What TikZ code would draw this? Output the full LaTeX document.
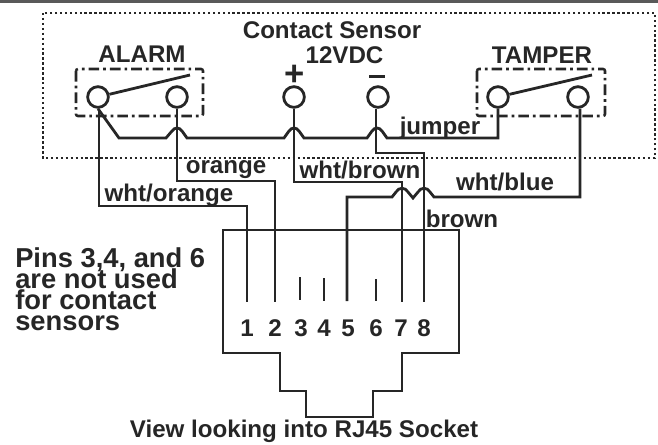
\documentclass[tikz,border=0pt]{standalone}
\usepackage{fontspec}
\setmainfont{Liberation Sans}
\begin{document}
\begin{tikzpicture}[x=0.75pt,y=-0.75pt,
  wire/.style={line width=2.1pt,black!85,line join=miter},
  txt/.style={font=\fontsize{18.1pt}{20pt}\selectfont\bfseries,inner sep=0pt,text=black!85},
  term/.style={circle,draw=black!85,line width=2.1pt,minimum size=15.5pt,inner sep=0pt},
  outerbox/.style={draw=black!85,line width=2.2pt,dash pattern=on 1.8pt off 1.9pt},
  swbox/.style={draw=black!85,line width=1.9pt,dash pattern=on 8pt off 3pt on 2pt off 3pt,rounded corners=1.5pt}]
\useasboundingbox (0,0) rectangle (658,444);
\fill[black!65] (0,0) rectangle (658,2.5);
\coordinate (bx1) at (43,13);\coordinate (bx2) at (655,158);
\draw[outerbox] (bx1) rectangle (bx2);
\draw[swbox] (76,69) rectangle (203,116);
\draw[swbox] (477,69) rectangle (605,116);
\node[term] (a1) at (98,97) {};
\node[term] (a2) at (177,97) {};
\node[term] (vp) at (294,97) {};
\node[term] (vm) at (378,97) {};
\node[term] (t1) at (498,97) {};
\node[term] (t2) at (578,97) {};
\coordinate (a3) at (190,75);\coordinate (t3) at (592,75);
\draw[wire] (a1) -- (a3);
\draw[wire] (t1) -- (t3);
% jumper
\draw[wire] (a1.south) -- (119,138) -- (166,138) -- (172,131) .. controls (175,127) and (179,127) .. (182,131) -- (187,138) -- (284,138) -- (289,131) .. controls (292,127) and (296,127) .. (299,131) -- (304,138) -- (367,138) -- (372,131) .. controls (375,127) and (379,127) .. (382,131) -- (387,138) -- (498,138) -- (t1.south);
% socket
\draw[wire] (223,230) -- (459,230) -- (459,353) -- (402,353) -- (402,391) -- (373,391) -- (373,417) -- (306,417) -- (306,391) -- (280,391) -- (280,353) -- (223,353) -- cycle;
\coordinate (p1) at (247,302);\coordinate (p2) at (275,302);\coordinate (p5) at (347,301);\coordinate (p7) at (402,302);\coordinate (p8) at (424,302);
\draw[wire] (a1.south) ++(1,0) -- (99,206) -- (247,206) -- (p1);
\draw[wire] (a2.south) -- (177,181) -- (275,181) -- (p2);
\draw[wire] (vp.south) -- (294,182) -- (402,182) -- (p7);
\draw[wire] (vm.south) ++(-2,0) -- (376,153) -- (424,153) -- (p8);
\draw[wire] (t2.south) ++(2,0) -- (580,197) -- (434,197) -- (430,192) .. controls (427,187) and (421,187) .. (418,192) -- (413,198) -- (408,192) .. controls (405,187) and (399,187) .. (396,192) -- (392,197) -- (347,197) -- (p5);
% unused pins
\coordinate (s3a) at (300,277);\coordinate (s3b) at (300,300);
\coordinate (s4a) at (324,278);\coordinate (s4b) at (324,301);
\coordinate (s6a) at (376,279);\coordinate (s6b) at (376,301);
\draw[wire,line width=1.6pt] (s3a) -- (s3b);
\draw[wire,line width=1.6pt] (s4a) -- (s4b);
\draw[wire,line width=1.6pt] (s6a) -- (s6b);
% labels
\node[txt] (title) at (332,30) {Contact Sensor};
\node[txt] (volt) at (344.5,55) {12VDC};
\node[txt] (alarm) at (142,54) {ALARM};
\node[txt] (tamper) at (542,55) {TAMPER};
\node[txt,font=\fontsize{26pt}{28pt}\selectfont\bfseries] (plus) at (295,75) {+};
\fill[black!85] (369,75) rectangle (385,77.5);
\node[txt] (jump) at (440,128) {jumper};
\node[txt] (or) at (226,170) {orange};
\node[txt] (wo) at (169,195) {wht/orange};
\node[txt] (wb) at (360,170) {wht/brown};
\node[txt] (wbl) at (505,182) {wht/blue};
\node[txt] (br) at (462,219) {brown};
\foreach \n/\x in {1/247,2/275,3/301,4/324,5/348,6/376,7/401,8/424}
  \node[txt] (n\n) at (\x,328) {\n};
\node[txt,anchor=west,align=left,font=\fontsize{20.5pt}{15.75pt}\selectfont\bfseries,execute at begin node={\lineskiplimit=-30pt\relax}] (pins) at (15,289) {Pins 3,4, and 6\\are not used\\for contact\\sensors};
\node[txt] (view) at (304,431) {View looking into RJ45 Socket};
\end{tikzpicture}
\end{document}
